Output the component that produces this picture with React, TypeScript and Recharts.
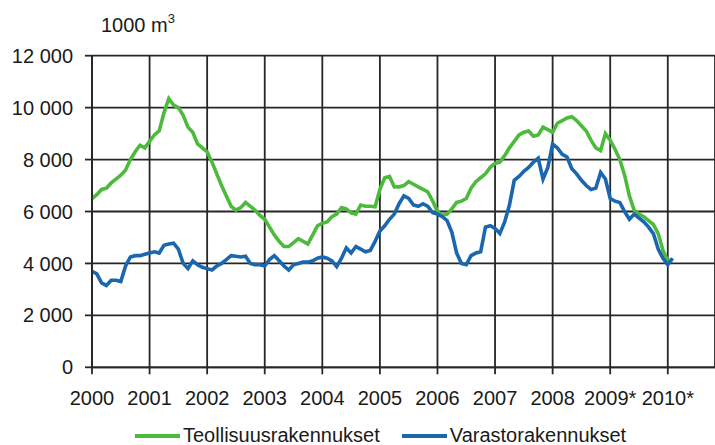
import { LineChart, Line, XAxis, YAxis, CartesianGrid, Legend } from 'recharts';

// monthly, Jan 2000 .. Feb 2010
const START_YEAR = 2000;

const industrial = [
  6500, 6650, 6850, 6900, 7100, 7250, 7400, 7600, 8000, 8300, 8550, 8450,
  8700, 8950, 9100, 9800, 10350, 10100, 10000, 9700, 9250, 9050, 8600, 8450,
  8300, 7900, 7450, 7000, 6600, 6200, 6050, 6150, 6350, 6200, 6050, 5850,
  5700, 5400, 5100, 4850, 4650, 4650, 4800, 4950, 4850, 4750, 5100, 5450,
  5550, 5600, 5800, 5900, 6150, 6100, 5950, 5900, 6250, 6200, 6200, 6180,
  6850, 7300, 7350, 6950, 6950, 7000, 7150, 7050, 6950, 6850, 6750, 6400,
  6000, 5850, 5900, 6100, 6350, 6400, 6500, 6900, 7150, 7300, 7450, 7700,
  7850, 7900, 8150, 8450, 8700, 8950, 9050, 9100, 8900, 8950, 9250, 9150,
  9050, 9400, 9500, 9600, 9650, 9500, 9300, 9100, 8750, 8450, 8350, 9000,
  8750, 8400, 8000, 7400, 6600, 6050, 5900, 5800, 5650, 5500, 5150, 4500,
  4100, 4150,
];

const warehouse = [
  3700, 3600, 3250, 3150, 3350, 3350, 3300, 3900, 4250, 4300, 4300, 4350,
  4400, 4450, 4400, 4700, 4750, 4780, 4550, 4000, 3800, 4100, 3950, 3850,
  3800, 3750, 3900, 4000, 4150, 4300, 4280, 4250, 4280, 4000, 3950, 3950,
  3900, 4150, 4300, 4100, 3900, 3750, 3950, 4000, 4050, 4050, 4100, 4200,
  4250, 4200, 4100, 3880, 4200, 4600, 4400, 4650, 4550, 4450, 4500, 4850,
  5250, 5450, 5700, 5900, 6300, 6600, 6500, 6250, 6200, 6300, 6200, 5950,
  5900, 5800, 5650, 5200, 4400, 4000, 3950, 4300, 4400, 4450, 5400, 5450,
  5350, 5150, 5600, 6250, 7200, 7350, 7550, 7700, 7900, 8050, 7250, 7700,
  8600, 8450, 8200, 8100, 7650, 7450, 7200, 7000, 6850, 6900, 7500, 7250,
  6500, 6400, 6350, 6000, 5700, 5900, 5750, 5600, 5400, 5150, 4550, 4200,
  3950, 4200,
];

const yearTicks = [2000, 2001, 2002, 2003, 2004, 2005, 2006, 2007, 2008, 2009, 2010];
const yearLabels = ['2000', '2001', '2002', '2003', '2004', '2005', '2006', '2007', '2008', '2009*', '2010*'];
const valueTicks = [0, 2000, 4000, 6000, 8000, 10000, 12000];
const valueLabels = ['0', '2 000', '4 000', '6 000', '8 000', '10 000', '12 000'];

const seriesNames = ['Teollisuusrakennukset', 'Varastorakennukset'];
const GREEN = '#4cbb3c';
const BLUE = '#1a66af';
const GRID = '#262626';
const TEXT = '#1a1a1a';
const FONT = '"Liberation Sans", Arial, sans-serif';

const data = industrial.map((v, i) => ({
  t: START_YEAR + i / 12,
  industrial: v,
  warehouse: warehouse[i],
}));

function ChartLegend() {
  const items = [
    { name: seriesNames[0], color: GREEN },
    { name: seriesNames[1], color: BLUE },
  ];
  return (
    <div style={{ display: 'flex', alignItems: 'center', paddingLeft: 135, fontFamily: FONT, fontSize: 20, color: TEXT }}>
      {items.map((it, i) => (
        <div key={it.name} style={{ display: 'flex', alignItems: 'center', marginRight: i === 0 ? 22 : 0 }}>
          <span style={{ display: 'inline-block', width: 45, height: 4, background: it.color, marginRight: 3 }} />
          <span>{it.name}</span>
        </div>
      ))}
    </div>
  );
}

export default function App() {
  const tick = { fontSize: 20, fill: TEXT, fontFamily: FONT };
  return (
    <div style={{ position: 'absolute', left: 0, top: 0, width: 715, height: 445, overflow: 'hidden', background: '#fff' }}>
      <div style={{ position: 'absolute', left: 101, top: 14, fontFamily: FONT, fontSize: 20, color: TEXT }}>
        1000 m<sup style={{ fontSize: 13, verticalAlign: 'top', position: 'relative', top: -3 }}>3</sup>
      </div>
      <LineChart width={715} height={445} data={data} margin={{ top: 55.7, right: 0, left: 0, bottom: 0 }}>
        <CartesianGrid stroke={GRID} strokeWidth={1.8} />
        <XAxis
          type="number"
          dataKey="t"
          domain={[2000, 2010.82]}
          ticks={yearTicks}
          interval={0}
          allowDataOverflow
          height={77.7}
          tick={tick}
          tickSize={7}
          tickMargin={16.5}
          tickFormatter={(v: number) => yearLabels[yearTicks.indexOf(v)] ?? String(v)}
          axisLine={{ stroke: GRID, strokeWidth: 1.8 }}
          tickLine={{ stroke: GRID, strokeWidth: 1.8 }}
        />
        <YAxis
          domain={[0, 12000]}
          ticks={valueTicks}
          interval={0}
          width={92}
          tick={tick}
          tickSize={7}
          tickMargin={12}
          tickFormatter={(v: number) => valueLabels[valueTicks.indexOf(v)] ?? String(v)}
          axisLine={{ stroke: GRID, strokeWidth: 1.8 }}
          tickLine={{ stroke: GRID, strokeWidth: 1.8 }}
        />
        <Legend
          layout="horizontal"
          verticalAlign="middle"
          align="center"
          content={<ChartLegend />}
          wrapperStyle={{ top: 424, left: 0, width: 715 }}
        />
        <Line
          type="linear" dataKey="industrial" name={seriesNames[0]}
          stroke={GREEN} strokeWidth={3.6} dot={false}
          isAnimationActive={false}
        />
        <Line
          type="linear" dataKey="warehouse" name={seriesNames[1]}
          stroke={BLUE} strokeWidth={3.6} dot={false}
          isAnimationActive={false}
        />
      </LineChart>
    </div>
  );
}
